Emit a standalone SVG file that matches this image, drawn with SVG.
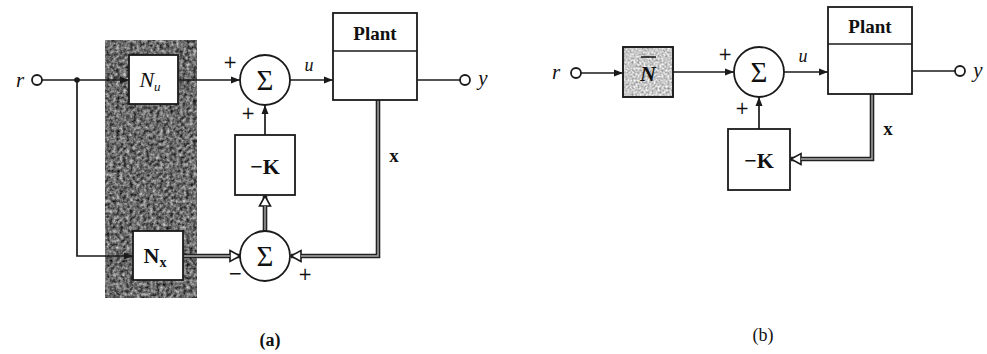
<svg xmlns="http://www.w3.org/2000/svg" width="987" height="354" viewBox="0 0 987 354">
<style>
.bx{fill:#fff;stroke:#1a1a1a;stroke-width:1.8}
.ln{fill:none;stroke:#1a1a1a;stroke-width:1.7}
.vo{fill:none;stroke:#222;stroke-width:4.6}
.vi{fill:none;stroke:#aaa;stroke-width:1.4}
.pt{fill:#fff;stroke:#1a1a1a;stroke-width:1.8}
.t{font-family:"Liberation Serif","Times New Roman",serif;fill:#111}
.b{font-weight:bold}
.i{font-style:italic}
.pl{font-family:"DejaVu Sans",sans-serif;fill:#111;font-size:17px}
</style>
<defs>
<marker id="ah" markerUnits="userSpaceOnUse" markerWidth="10" markerHeight="8" refX="9" refY="4" orient="auto">
<path d="M0,0.5 L9,4 L0,7.5 z" fill="#1a1a1a"/>
</marker>
<marker id="hh" markerUnits="userSpaceOnUse" markerWidth="14" markerHeight="14" refX="12" refY="7" orient="auto">
<path d="M2,1.5 L12,7 L2,12.5 z" fill="#fff" stroke="#1a1a1a" stroke-width="1.6"/>
</marker>
<filter id="grain" x="0" y="0" width="100%" height="100%" color-interpolation-filters="sRGB">
<feTurbulence type="fractalNoise" baseFrequency="0.3" numOctaves="3" seed="4" result="n"/>
<feColorMatrix in="n" type="matrix" values="1.0 0 0 0 -0.08 1.0 0 0 0 -0.08 1.0 0 0 0 -0.08 0 0 0 0 1" result="g"/>
<feComposite in="g" in2="SourceGraphic" operator="in"/>
</filter>
<filter id="grainL" x="0" y="0" width="100%" height="100%" color-interpolation-filters="sRGB">
<feTurbulence type="fractalNoise" baseFrequency="0.5" numOctaves="2" seed="7" result="n"/>
<feColorMatrix in="n" type="matrix" values="0.7 0 0 0 0.44 0.7 0 0 0 0.44 0.7 0 0 0 0.44 0 0 0 0 1" result="g"/>
<feComposite in="g" in2="SourceGraphic" operator="in"/>
</filter>
</defs>
<rect width="987" height="354" fill="#fff"/>

<!-- Panel (a) -->
<g id="a-shade"><rect x="105" y="40" width="92" height="258" fill="#555" filter="url(#grain)"/></g>

<g id="a-connectors">
<circle cx="37" cy="80" r="5" class="pt"/>
<path class="ln" d="M42,80 H129" marker-end="url(#ah)"/>
<circle cx="77" cy="80" r="2.8" fill="#1a1a1a"/>
<path class="ln" d="M77,80 V256 H133" marker-end="url(#ah)"/>
<path class="ln" d="M178,80 H240" marker-end="url(#ah)"/>
<path class="ln" d="M290,80 H333" marker-end="url(#ah)"/>
<path class="ln" d="M417,80 H460"/>
<circle cx="465" cy="80" r="5" class="pt"/>
<path class="ln" d="M265,135 V105" marker-end="url(#ah)"/>
<path class="vo" d="M265,231 V196" marker-end="url(#hh)"/>
<path class="vi" d="M265,231 V206"/>
<path class="vo" d="M183,256 H240" marker-end="url(#hh)"/>
<path class="vi" d="M183,256 H230"/>
<path class="vo" d="M378,100 V256 H291" marker-end="url(#hh)"/>
<path class="vi" d="M378,100 V256 H301"/>
</g>

<g id="a-Nu"><rect class="bx" x="129" y="55" width="49" height="49"/>
<text class="t i" x="150" y="87" font-size="22" text-anchor="middle">N<tspan font-size="13" dy="4">u</tspan></text></g>
<g id="a-Nx"><rect class="bx" x="133" y="231" width="50" height="49"/>
<text class="t b" x="155" y="263" font-size="22" text-anchor="middle">N<tspan font-size="14" dy="4">x</tspan></text></g>
<g id="a-sum1"><circle class="bx" cx="265" cy="80" r="25"/>
<text class="t" x="265" y="90" font-size="29" text-anchor="middle">Σ</text></g>
<g id="a-K"><rect class="bx" x="235" y="135" width="60" height="60"/>
<text class="t b" x="265" y="174" font-size="22" text-anchor="middle">−K</text></g>
<g id="a-sum2"><circle class="bx" cx="265" cy="256" r="25"/>
<text class="t" x="265" y="266" font-size="29" text-anchor="middle">Σ</text></g>
<g id="a-plant"><rect class="bx" x="333" y="13" width="84" height="87"/>
<line class="ln" x1="333" y1="51" x2="417" y2="51"/>
<text class="t b" x="375" y="40" font-size="19" text-anchor="middle">Plant</text></g>

<g id="a-labels">
<text class="t i" x="20" y="87" font-size="21" text-anchor="middle">r</text>
<text class="t i" x="483" y="85" font-size="21" text-anchor="middle">y</text>
<text class="pl" x="230" y="68" text-anchor="middle">+</text>
<text class="t i" x="309" y="71" font-size="18" text-anchor="middle">u</text>
<text class="pl" x="248" y="119" text-anchor="middle">+</text>
<text class="pl" x="235" y="279" text-anchor="middle">−</text>
<text class="pl" x="305" y="280" text-anchor="middle">+</text>
<text class="t b" x="394" y="162" font-size="19" text-anchor="middle">x</text>
<text class="t b" x="270" y="346" font-size="18" text-anchor="middle">(a)</text>
</g>

<!-- Panel (b) -->
<g id="b-connectors">
<circle cx="576" cy="73" r="5" class="pt"/>
<path class="ln" d="M581,73 H623" marker-end="url(#ah)"/>
<path class="ln" d="M673,72 H734" marker-end="url(#ah)"/>
<path class="ln" d="M784,72 H828" marker-end="url(#ah)"/>
<path class="ln" d="M912,71 H955"/>
<circle cx="960" cy="71" r="5" class="pt"/>
<path class="ln" d="M759,129 V97" marker-end="url(#ah)"/>
<path class="vo" d="M872,94 V159 H791" marker-end="url(#hh)"/>
<path class="vi" d="M872,94 V159 H801"/>
</g>
<g id="b-N"><rect x="623" y="47" width="50" height="50" fill="#ccc" filter="url(#grainL)"/>
<rect x="623" y="47" width="50" height="50" fill="none" stroke="#1a1a1a" stroke-width="1.9"/>
<text class="t i b" x="648" y="81" font-size="22" text-anchor="middle">N</text>
<line x1="641" y1="57" x2="656" y2="57" stroke="#111" stroke-width="1.5"/></g>
<g id="b-sum"><circle class="bx" cx="759" cy="72" r="25"/>
<text class="t" x="759" y="82" font-size="29" text-anchor="middle">Σ</text></g>
<g id="b-K"><rect class="bx" x="728" y="129" width="62" height="61"/>
<text class="t b" x="759" y="168" font-size="22" text-anchor="middle">−K</text></g>
<g id="b-plant"><rect class="bx" x="828" y="7" width="84" height="87"/>
<line class="ln" x1="828" y1="44" x2="912" y2="44"/>
<text class="t b" x="870" y="33" font-size="19" text-anchor="middle">Plant</text></g>
<g id="b-labels">
<text class="t i" x="556" y="79" font-size="21" text-anchor="middle">r</text>
<text class="t i" x="978" y="77" font-size="21" text-anchor="middle">y</text>
<text class="pl" x="725" y="60" text-anchor="middle">+</text>
<text class="t i" x="803" y="62" font-size="18" text-anchor="middle">u</text>
<text class="pl" x="742" y="114" text-anchor="middle">+</text>
<text class="t b" x="888" y="135" font-size="19" text-anchor="middle">x</text>
<text class="t" x="763" y="341" font-size="18" text-anchor="middle">(b)</text>
</g>
</svg>
